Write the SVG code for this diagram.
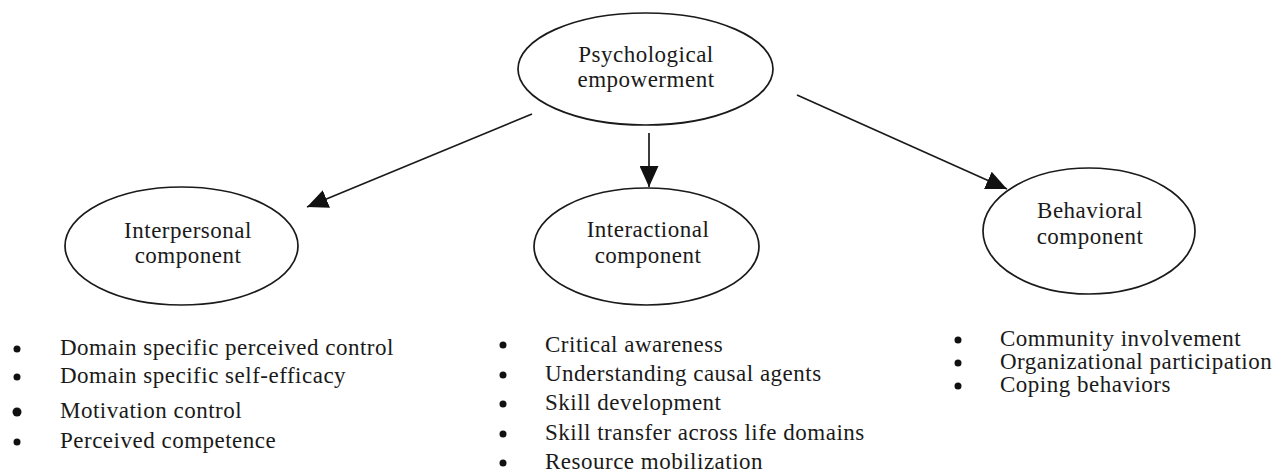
<svg xmlns="http://www.w3.org/2000/svg" width="1284" height="472" viewBox="0 0 1284 472">
<defs>
<style>
.node{fill:#fff;stroke:#1a1a1a;stroke-width:1.7}
.lbl{font-family:"Liberation Serif","Times New Roman",serif;font-size:23px;fill:#1a1a1a;text-anchor:middle;letter-spacing:0.5px}
.item{font-family:"Liberation Serif","Times New Roman",serif;font-size:23px;fill:#1a1a1a;letter-spacing:0.5px}
.edge{stroke:#1a1a1a;stroke-width:1.7;fill:none}
.bul{fill:#111}
</style>
<marker id="arr" markerWidth="21" markerHeight="19" refX="21" refY="9.5" orient="auto" markerUnits="userSpaceOnUse">
<path d="M0,0 L21,9.5 L0,19 Z" fill="#111"/>
</marker>
</defs>
<rect width="1284" height="472" fill="#fff"/>
<g id="connectors">
<line class="edge" x1="532" y1="114" x2="307" y2="207" marker-end="url(#arr)"/>
<line class="edge" x1="649" y1="133" x2="649" y2="187" marker-end="url(#arr)"/>
<line class="edge" x1="797" y1="95" x2="1007" y2="189" marker-end="url(#arr)"/>
</g>
<g id="psychological">
<ellipse class="node" cx="645.5" cy="69" rx="127.5" ry="56"/>
<text class="lbl" x="646" y="62">Psychological</text>
<text class="lbl" x="646" y="87">empowerment</text>
</g>
<g id="interpersonal">
<ellipse class="node" cx="181.5" cy="246" rx="116.5" ry="59"/>
<text class="lbl" x="188" y="238">Interpersonal</text>
<text class="lbl" x="188" y="263">component</text>
</g>
<g id="interactional">
<ellipse class="node" cx="646.5" cy="246.5" rx="112.5" ry="58.5"/>
<text class="lbl" x="648" y="237">Interactional</text>
<text class="lbl" x="648" y="263">component</text>
</g>
<g id="behavioral">
<ellipse class="node" cx="1089" cy="231" rx="106" ry="63"/>
<text class="lbl" x="1090" y="218">Behavioral</text>
<text class="lbl" x="1090" y="244">component</text>
</g>
<g id="interpersonal-list">
<circle class="bul" cx="17" cy="349" r="3.5"/>
<circle class="bul" cx="17" cy="377" r="3.5"/>
<circle class="bul" cx="17" cy="412" r="4.5"/>
<circle class="bul" cx="17" cy="442" r="3.5"/>
<text class="item" x="60" y="355">Domain specific perceived control</text>
<text class="item" x="60" y="383">Domain specific self-efficacy</text>
<text class="item" x="60" y="418">Motivation control</text>
<text class="item" x="60" y="448">Perceived competence</text>
</g>
<g id="interactional-list">
<circle class="bul" cx="503" cy="345" r="3.5"/>
<circle class="bul" cx="503" cy="375" r="3.5"/>
<circle class="bul" cx="503" cy="404" r="3.5"/>
<circle class="bul" cx="503" cy="434" r="3.5"/>
<circle class="bul" cx="503" cy="463" r="3.5"/>
<text class="item" x="545" y="352">Critical awareness</text>
<text class="item" x="545" y="381">Understanding causal agents</text>
<text class="item" x="545" y="410">Skill development</text>
<text class="item" x="545" y="440">Skill transfer across life domains</text>
<text class="item" x="545" y="469">Resource mobilization</text>
</g>
<g id="behavioral-list">
<circle class="bul" cx="958" cy="340" r="3.5"/>
<circle class="bul" cx="958" cy="363" r="3.5"/>
<circle class="bul" cx="958" cy="386" r="3.5"/>
<text class="item" x="1000" y="346">Community involvement</text>
<text class="item" x="1000" y="369">Organizational participation</text>
<text class="item" x="1000" y="392">Coping behaviors</text>
</g>
</svg>
